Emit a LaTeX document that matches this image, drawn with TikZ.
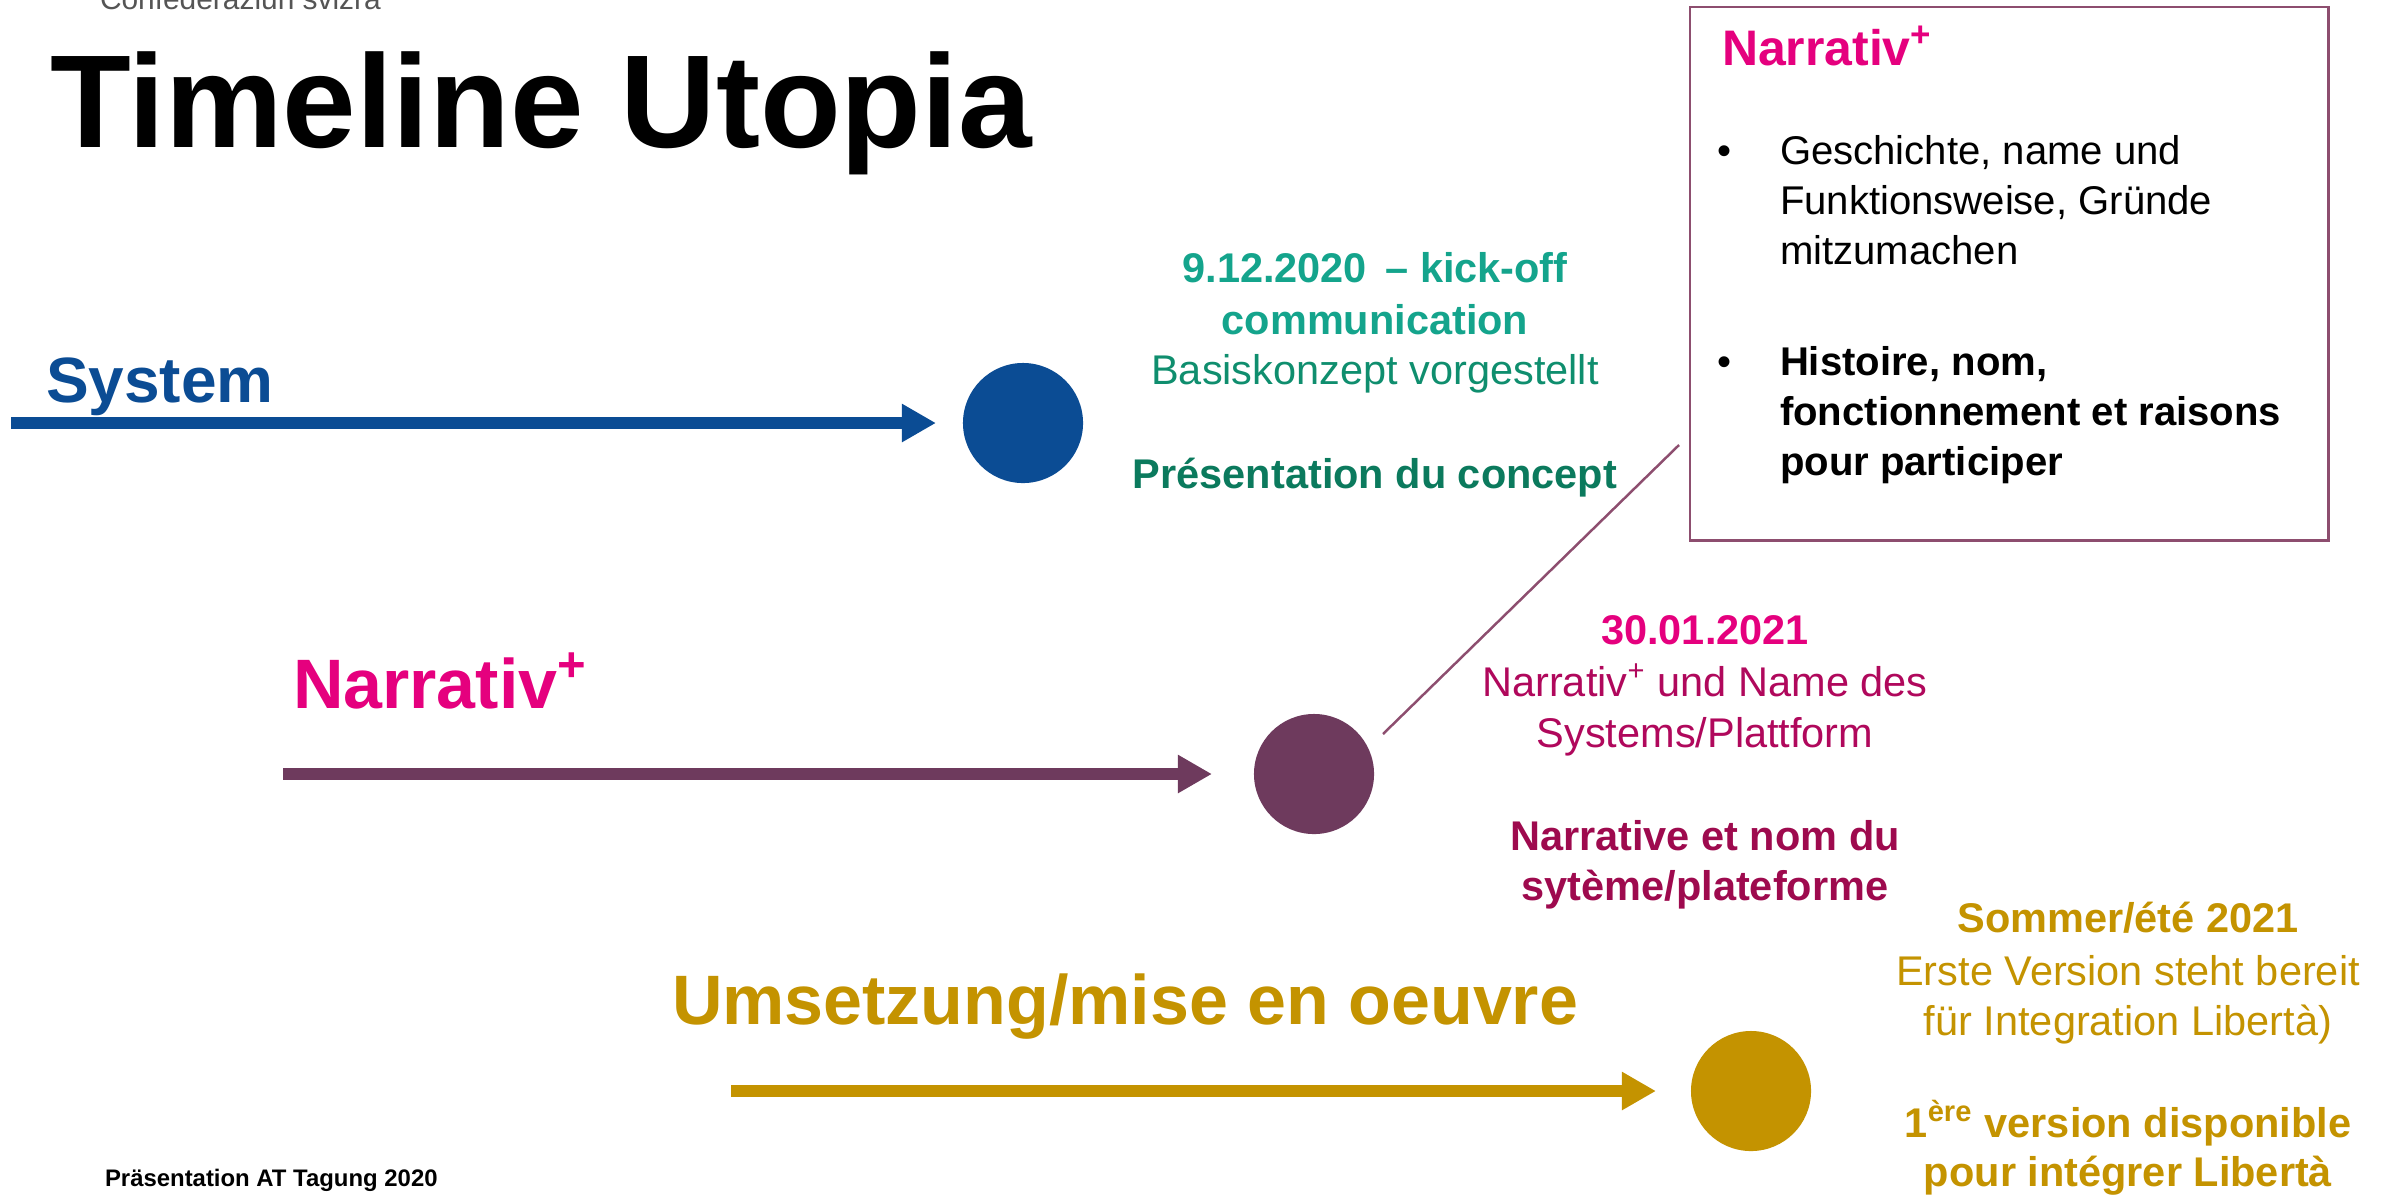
\documentclass[tikz,border=0pt]{standalone}
\usepackage{fontspec}
\setmainfont{Liberation Sans}
\usetikzlibrary{arrows.meta}
\definecolor{sysblue}{HTML}{0B4C94}
\definecolor{plum}{HTML}{6E3A5D}
\definecolor{boxplum}{HTML}{8D4E6F}
\definecolor{gold}{HTML}{C49300}
\definecolor{magenta}{HTML}{E5007E}
\definecolor{crimson}{HTML}{B0085C}
\definecolor{crimsondk}{HTML}{9E0A4E}
\definecolor{tealA}{HTML}{14A48C}
\definecolor{tealB}{HTML}{0F8E6E}
\definecolor{tealC}{HTML}{0B7A5D}
\definecolor{headgray}{HTML}{555555}
\begin{document}
\begin{tikzpicture}[x=0.01cm,y=-0.01cm,
  txt/.style={inner sep=0pt, outer sep=0pt, anchor=base},
  txtw/.style={txt, anchor=base west},
  titlefont/.style={txtw, font=\fontsize{37.6}{45}\selectfont\bfseries},
  lane/.style={txtw, font=\fontsize{19.9}{24}\selectfont\bfseries},
  tlb/.style={txt, font=\fontsize{11.8}{14.5}\selectfont\bfseries},
  tlr/.style={txt, font=\fontsize{11.8}{14.5}\selectfont},
  boxr/.style={txtw, font=\fontsize{11.4}{14.5}\selectfont},
  boxb/.style={txtw, font=\fontsize{11.4}{14.5}\selectfont\bfseries},
  dot/.style={circle, inner sep=0pt, outer sep=0pt, minimum size=1.2cm},
  arr/.style={line width=0.12cm, -{Triangle[length=0.34cm,width=0.36cm]}}]
\useasboundingbox (0,0) rectangle (2397,1196);
\clip (0,0) rectangle (2397,1196);
\fill[white] (0,0) rectangle (2397,1196);

% header remnants
\node[txtw, text=headgray, font=\fontsize{8.5}{10}\selectfont] (conf) at (100,9) {Confederaziun svizra};
\node[titlefont] (title) at (50,147) {Timeline Utopia};

% lane labels
\node[lane, text=sysblue, font=\fontsize{18.2}{22}\selectfont\bfseries] (lsys) at (46,402) {System};
\node[lane, text=magenta] (lnar) at (293,708) {Narrativ\textsuperscript{+}};
\node[lane, text=gold] (lums) at (672,1024) {Umsetzung/mise en oeuvre};

% milestones
\node[dot, fill=sysblue] (c1) at (1023,423) {};
\node[dot, fill=plum] (c2) at (1314,774) {};
\node[dot, fill=gold] (c3) at (1751,1091) {};

% arrows
\coordinate (s1) at (11,423);
\coordinate (s2) at (283,774);
\coordinate (s3) at (731,1091);
\draw[arr, sysblue, shorten >=0.27cm] (s1) -- (c1);
\draw[arr, plum, shorten >=0.42cm] (s2) -- (c2);
\draw[arr, gold, shorten >=0.35cm] (s3) -- (c3);

% callout box
\node[rectangle, draw=boxplum, line width=0.8pt, outer sep=0pt, inner sep=0pt,
      minimum width=6.38cm, minimum height=5.33cm, anchor=north west] (box) at (1690,7) {};
\coordinate (l1) at (1383,734);
\coordinate (l2) at (1679,445);
\draw[boxplum, line width=0.7pt] (l1) -- (l2);

\node[txtw, text=magenta, font=\fontsize{14.2}{17}\selectfont\bfseries] (bt) at (1722,65) {Narrativ\textsuperscript{+}};
\node[boxr] (bu1) at (1717,164) {•};
\node[boxr] (b11) at (1780,164) {Geschichte, name und};
\node[boxr] (b12) at (1780,214) {Funktionsweise, Gründe};
\node[boxr] (b13) at (1780,264) {mitzumachen};
\node[boxr] (bu2) at (1717,375) {•};
\node[boxb] (b21) at (1780,375) {Histoire, nom,};
\node[boxb] (b22) at (1780,425) {fonctionnement et raisons};
\node[boxb] (b23) at (1780,475) {pour participer};

% milestone 1 text
\node[tlb, text=tealA] (k1) at (1375,282) {9.12.2020 \,– kick-off};
\node[tlb, text=tealA] (k2) at (1375,334) {communication};
\node[tlr, text=tealB] (k3) at (1375,384) {Basiskonzept vorgestellt};
\node[tlb, text=tealC] (k4) at (1375,488) {Présentation du concept};

% milestone 2 text
\node[tlb, text=magenta] (n1) at (1705,644) {30.01.2021};
\node[tlr, text=crimson] (n2) at (1705,696) {Narrativ\textsuperscript{+} und Name des};
\node[tlr, text=crimson] (n3) at (1705,747) {Systems/Plattform};
\node[tlb, text=crimsondk] (n4) at (1705,850) {Narrative et nom du};
\node[tlb, text=crimsondk] (n5) at (1705,900) {sytème/plateforme};

% milestone 3 text
\node[tlb, text=gold] (g1) at (2128,932) {Sommer/été 2021};
\node[tlr, text=gold] (g2) at (2128,985) {Erste Version steht bereit};
\node[tlr, text=gold] (g3) at (2128,1035) {für Integration Libertà)};
\node[tlb, text=gold] (g4) at (2128,1137) {1\textsuperscript{ère} version disponible};
\node[tlb, text=gold] (g5) at (2128,1186) {pour intégrer Libertà};

% footer
\node[txtw, font=\fontsize{6.8}{8}\selectfont\bfseries] (foot) at (105,1186) {Präsentation AT Tagung 2020};
\end{tikzpicture}
\end{document}
